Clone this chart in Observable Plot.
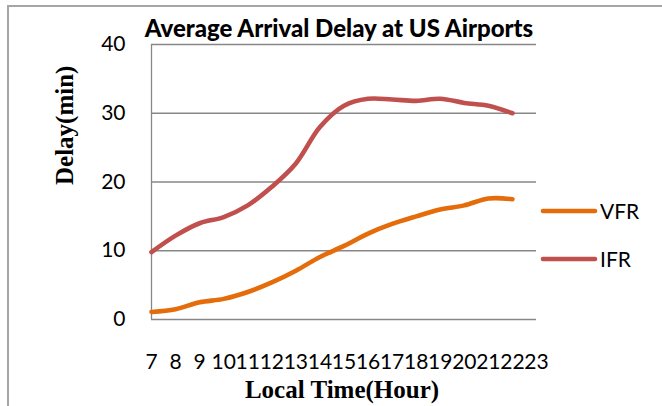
<!DOCTYPE html>
<html>
<head>
<meta charset="utf-8">
<script src="https://cdn.jsdelivr.net/npm/d3@7"></script>
<script src="https://cdn.jsdelivr.net/npm/@observablehq/plot@0.6"></script>
<style>
  html, body { margin: 0; padding: 0; background: #fff; overflow: hidden; }
  #wrap { position: relative; width: 662px; height: 406px; }
  #border { position: absolute; left: 7px; top: 5px; width: 720px; height: 520px; border: 2px solid #a6a6a6; box-sizing: border-box; pointer-events: none; }
  #legend { position: absolute; left: 0; top: 0; }
</style>
</head>
<body>
<div id="wrap">
  <div id="border"></div>
  <div id="chart"></div>
</div>
<script>
const hours = [7, 8, 9, 10, 11, 12, 13, 14, 15, 16, 17, 18, 19, 20, 21, 22];
const tickHours = [7, 8, 9, 10, 11, 12, 13, 14, 15, 16, 17, 18, 19, 20, 21, 22, 23];
const vfr = [1.1, 1.5, 2.5, 3.0, 4.0, 5.4, 7.1, 9.1, 10.7, 12.5, 13.9, 15.0, 16.0, 16.6, 17.6, 17.5];
const ifr = [9.8, 12.2, 14.0, 14.9, 16.6, 19.3, 22.7, 28.0, 31.1, 32.1, 32.0, 31.8, 32.1, 31.5, 31.1, 30.0];
const yTicks = [0, 10, 20, 30, 40];
const seriesNames = ["VFR", "IFR"];
const seriesColors = ["#E46C0A", "#C0504D"];

const data = [];
hours.forEach((h, i) => {
  data.push({hour: h, delay: vfr[i], series: "VFR"});
  data.push({hour: h, delay: ifr[i], series: "IFR"});
});

const W = 662, H = 406;
const mL = 151, mR = 126, mT = 44, mB = 87;

const chart = Plot.plot({
  width: W, height: H,
  marginLeft: mL, marginRight: mR, marginTop: mT, marginBottom: mB,
  style: {fontFamily: "Lato, sans-serif", fontSize: "21px", color: "#000", background: "transparent", overflow: "visible"},
  x: {domain: [7, 23], ticks: tickHours, tickSize: 0, tickPadding: 35, tickFormat: d => String(d), label: null},
  y: {domain: [0, 40], ticks: yTicks, tickSize: 0, tickPadding: 26, label: null},
  color: {domain: seriesNames, range: seriesColors},
  marks: [
    Plot.gridY(yTicks, {stroke: "#878787", strokeOpacity: 1, strokeWidth: 1.3}),
    Plot.ruleX([7], {stroke: "#878787", strokeWidth: 1.3}),
    Plot.line(data, {x: "hour", y: "delay", z: "series", stroke: "series", strokeWidth: 4.6, curve: "catmull-rom", strokeLinecap: "round"}),
    Plot.text(["Average Arrival Delay at US Airports"], {frameAnchor: "top", dx: -5, dy: -25, fontWeight: 900, fontSize: 24, fontFamily: "Lato, sans-serif", fill: "#000"}),
    Plot.text(["Local Time(Hour)"], {frameAnchor: "bottom", dx: -2, dy: 78, fontWeight: "bold", fontSize: 25, fontFamily: "'Liberation Serif', serif", fill: "#000"}),
    Plot.text(["Delay(min)"], {frameAnchor: "left", rotate: -90, dx: -87, dy: 3, fontWeight: "bold", fontSize: 25, fontFamily: "'Liberation Serif', serif", fill: "#000"})
  ]
});
document.getElementById("chart").appendChild(chart);

// legend
const legend = d3.select("#wrap").append("svg").attr("id", "legend").attr("width", W).attr("height", H);
const legendY = [211, 259];
seriesNames.forEach((name, i) => {
  legend.append("line").attr("x1", 543).attr("x2", 595).attr("y1", legendY[i]).attr("y2", legendY[i])
    .attr("stroke", seriesColors[i]).attr("stroke-width", 4.6).attr("stroke-linecap", "round");
  legend.append("text").attr("x", 600).attr("y", legendY[i]).attr("dy", "0.36em")
    .attr("font-family", "Lato, sans-serif").attr("font-size", 21).attr("fill", "#000").text(name);
});
</script>
</body>
</html>
